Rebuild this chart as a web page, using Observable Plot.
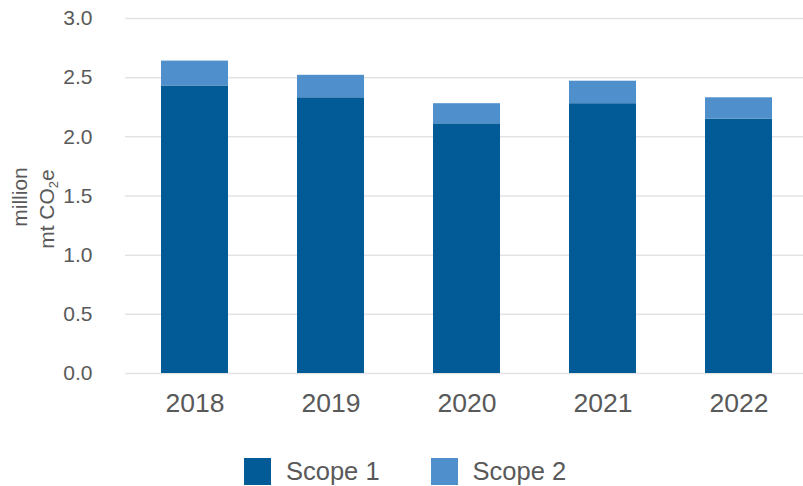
<!DOCTYPE html>
<html>
<head>
<meta charset="utf-8">
<script src="https://cdn.jsdelivr.net/npm/d3@7"></script>
<script src="https://cdn.jsdelivr.net/npm/@observablehq/plot@0.6"></script>
<style>
  body { margin: 0; background: #fff; font-family: "Liberation Sans", Arial, sans-serif; }
  #chart { position: relative; width: 803px; }
  .legend { display: flex; align-items: center; margin-left: 244px; margin-top: 17px; color: #595959; font-size: 25.5px; }
  .legend .sw { width: 27px; height: 27px; margin-right: 15px; }
  .legend .item { display: flex; align-items: center; margin-right: 51px; }
</style>
</head>
<body>
<div id="chart"></div>
<script>
const years = ["2018", "2019", "2020", "2021", "2022"];
const scope1 = [2.43, 2.33, 2.11, 2.28, 2.15];
const scope2 = [0.21, 0.19, 0.17, 0.19, 0.18];
const seriesNames = ["Scope 1", "Scope 2"];
const seriesColors = ["#025b97", "#4f90cc"];
const yTicks = [0, 0.5, 1.0, 1.5, 2.0, 2.5, 3.0];

const rows = [];
years.forEach((yr, i) => {
  rows.push({year: yr, scope: seriesNames[0], value: scope1[i]});
  rows.push({year: yr, scope: seriesNames[1], value: scope2[i]});
});

const textColor = "#595959";

const plot = Plot.plot({
  width: 803,
  height: 440,
  marginTop: 18,
  marginBottom: 67,
  marginLeft: 125,
  marginRight: 0,
  style: {fontFamily: '"Liberation Sans", Arial, sans-serif', color: textColor, background: "#fff"},
  x: {domain: years, range: [125, 807.5], paddingInner: 0.51, paddingOuter: 0.255, label: null},
  y: {domain: [0, 3], label: null},
  color: {domain: seriesNames, range: seriesColors},
  marks: [
    Plot.ruleY(yTicks, {stroke: "#e3e3e3", strokeWidth: 1.5}),
    Plot.barY(rows, Plot.stackY({x: "year", y: "value", fill: "scope", order: null})),
    Plot.axisY({ticks: yTicks, tickFormat: d3.format(".1f"), tickSize: 0, tickPadding: 33, fontSize: 21, fill: textColor, label: null}),
    Plot.axisX({tickSize: 0, tickPadding: 20, fontSize: 26.5, fill: textColor, label: null})
  ]
});

document.getElementById("chart").appendChild(plot);

// y-axis title with subscript
const svg = d3.select(plot);
const g = svg.append("g").attr("fill", textColor)
  .style("font-family", '"Liberation Sans", Arial, sans-serif');
g.append("text").attr("transform", "translate(27,197) rotate(-90)").attr("text-anchor", "middle")
  .style("font-size", "21px").text("million");
const t2 = g.append("text").attr("transform", "translate(54,209) rotate(-90)").attr("text-anchor", "middle")
  .style("font-size", "21px");
t2.append("tspan").text("mt CO");
t2.append("tspan").style("font-size", "13px").attr("dy", 4).text("2");
t2.append("tspan").attr("dy", -4).text("e");

// legend
const legend = d3.select("#chart").append("div").attr("class", "legend");
seriesNames.forEach((n, i) => {
  const it = legend.append("div").attr("class", "item");
  it.append("div").attr("class", "sw").style("background", seriesColors[i]);
  it.append("span").text(n);
});
</script>
</body>
</html>
